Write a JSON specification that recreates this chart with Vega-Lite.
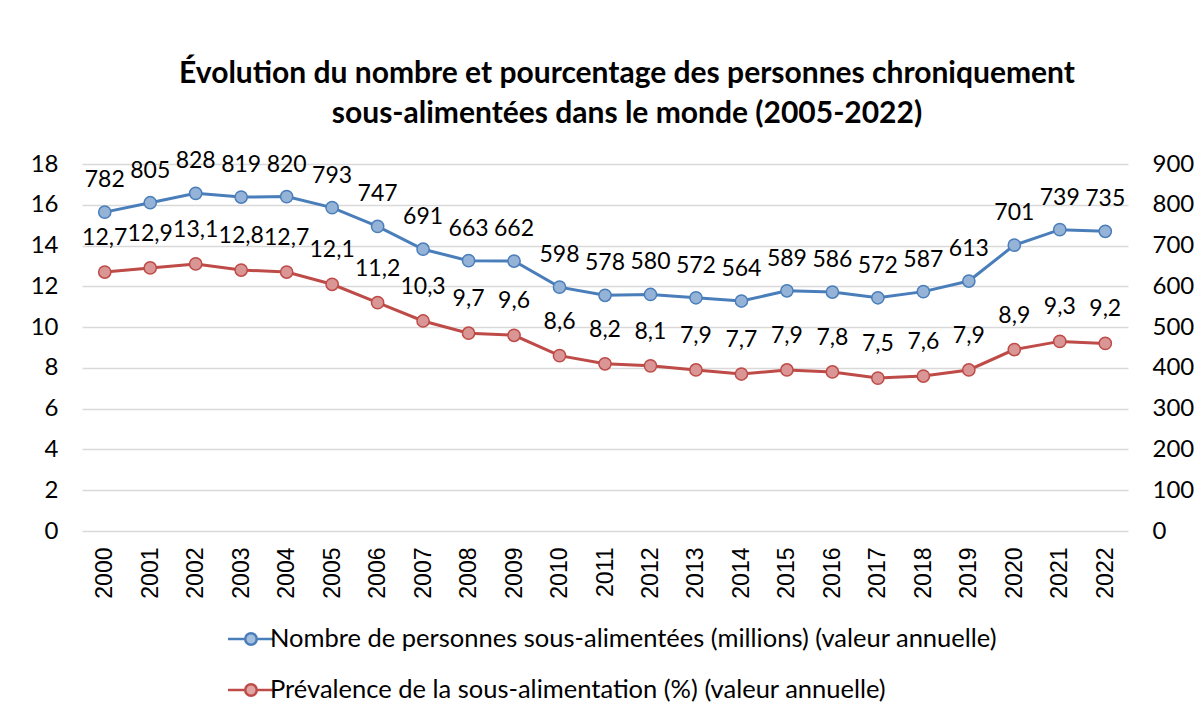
{
  "$schema": "https://vega.github.io/schema/vega-lite/v6.json",
  "width": 1046,
  "height": 367,
  "autosize": "none",
  "padding": {"left": 82, "top": 164, "right": 66, "bottom": 188},
  "background": "white",
  "config": {
    "font": "Lato",
    "view": {"stroke": null},
    "locale": {"number": {"decimal": ",", "thousands": " ", "grouping": [3], "currency": ["", " €"]}},
    "axis": {"labelFont": "Lato", "labelFontSize": 24, "labelColor": "#000000", "ticks": false, "domain": false, "gridColor": "#d9d9d9", "gridWidth": 1.5}
  },
  "title": {
    "text": ["Évolution du nombre et pourcentage des personnes chroniquement", "sous-alimentées dans le monde (2005-2022)"],
    "font": "Lato",
    "fontSize": 30,
    "fontWeight": "bold",
    "color": "#000000",
    "lineHeight": 40,
    "anchor": "middle",
    "dx": 22,
    "offset": 21
  },
  "data": {
    "values": [
      {"annee": "2000", "nombre": 782, "prev": 12.7},
      {"annee": "2001", "nombre": 805, "prev": 12.9},
      {"annee": "2002", "nombre": 828, "prev": 13.1},
      {"annee": "2003", "nombre": 819, "prev": 12.8},
      {"annee": "2004", "nombre": 820, "prev": 12.7},
      {"annee": "2005", "nombre": 793, "prev": 12.1},
      {"annee": "2006", "nombre": 747, "prev": 11.2},
      {"annee": "2007", "nombre": 691, "prev": 10.3},
      {"annee": "2008", "nombre": 663, "prev": 9.7},
      {"annee": "2009", "nombre": 662, "prev": 9.6},
      {"annee": "2010", "nombre": 598, "prev": 8.6},
      {"annee": "2011", "nombre": 578, "prev": 8.2},
      {"annee": "2012", "nombre": 580, "prev": 8.1},
      {"annee": "2013", "nombre": 572, "prev": 7.9},
      {"annee": "2014", "nombre": 564, "prev": 7.7},
      {"annee": "2015", "nombre": 589, "prev": 7.9},
      {"annee": "2016", "nombre": 586, "prev": 7.8},
      {"annee": "2017", "nombre": 572, "prev": 7.5},
      {"annee": "2018", "nombre": 587, "prev": 7.6},
      {"annee": "2019", "nombre": 613, "prev": 7.9},
      {"annee": "2020", "nombre": 701, "prev": 8.9},
      {"annee": "2021", "nombre": 739, "prev": 9.3},
      {"annee": "2022", "nombre": 735, "prev": 9.2}
    ]
  },
  "encoding": {
    "x": {
      "field": "annee",
      "type": "ordinal",
      "scale": {"type": "point", "padding": 0.5},
      "axis": {"title": null, "labelAngle": -90, "labelFont": "Liberation Sans", "labelFontSize": 23, "labelPadding": 16, "grid": false}
    }
  },
  "layer": [
    {
      "encoding": {
        "y": {
          "field": "prev",
          "type": "quantitative",
          "scale": {"domain": [0, 18]},
          "axis": {"orient": "left", "title": null, "values": [0, 2, 4, 6, 8, 10, 12, 14, 16, 18], "labelPadding": 24, "grid": true}
        }
      },
      "layer": [
        {
          "mark": {"type": "line", "strokeWidth": 3},
          "encoding": {
            "color": {
              "datum": "Prévalence de la sous-alimentation (%) (valeur annuelle)",
              "scale": {
                "domain": ["Nombre de personnes sous-alimentées (millions) (valeur annuelle)", "Prévalence de la sous-alimentation (%) (valeur annuelle)"],
                "range": ["#4a7ebb", "#be4b48"]
              },
              "legend": {
                "title": null,
                "orient": "none",
                "legendX": 156,
                "legendY": 462,
                "direction": "vertical",
                "labelFont": "Lato",
                "labelFontSize": 25.5,
                "labelColor": "#000000",
                "labelLimit": 0,
                "labelOffset": 6,
                "rowPadding": 24,
                "symbolType": "M-2,0L-0.5,0M0.5,0L2,0M0.5,0A0.5,0.5 0 1,1 -0.5,0A0.5,0.5 0 1,1 0.5,0Z",
                "symbolSize": 529,
                "symbolStrokeWidth": 2.5,
                "encode": {"symbols": {"update": {"fill": {"scale": "color", "field": "value"}, "fillOpacity": {"value": 0.5}}}}
              }
            }
          }
        },
        {
          "mark": {"type": "point", "filled": true, "fill": "#d99694", "stroke": "#be4b48", "strokeWidth": 1.5, "opacity": 1, "size": 150},
          "encoding": {}
        },
        {
          "mark": {"type": "text", "dy": -34, "font": "Lato", "fontSize": 23, "color": "#000000"},
          "encoding": {"text": {"field": "prev", "type": "quantitative", "format": ".1f"}}
        }
      ]
    },
    {
      "encoding": {
        "y": {
          "field": "nombre",
          "type": "quantitative",
          "scale": {"domain": [0, 900]},
          "axis": {"orient": "right", "title": null, "values": [0, 100, 200, 300, 400, 500, 600, 700, 800, 900], "labelPadding": 24, "grid": false}
        }
      },
      "layer": [
        {
          "mark": {"type": "line", "strokeWidth": 3},
          "encoding": {"color": {"datum": "Nombre de personnes sous-alimentées (millions) (valeur annuelle)"}}
        },
        {
          "mark": {"type": "point", "filled": true, "fill": "#95b3d7", "stroke": "#4a7ebb", "strokeWidth": 1.5, "opacity": 1, "size": 150},
          "encoding": {}
        },
        {
          "mark": {"type": "text", "dy": -32, "font": "Lato", "fontSize": 23, "color": "#000000"},
          "encoding": {"text": {"field": "nombre", "type": "quantitative", "format": "d"}}
        }
      ]
    }
  ],
  "resolve": {"scale": {"y": "independent"}}
}
